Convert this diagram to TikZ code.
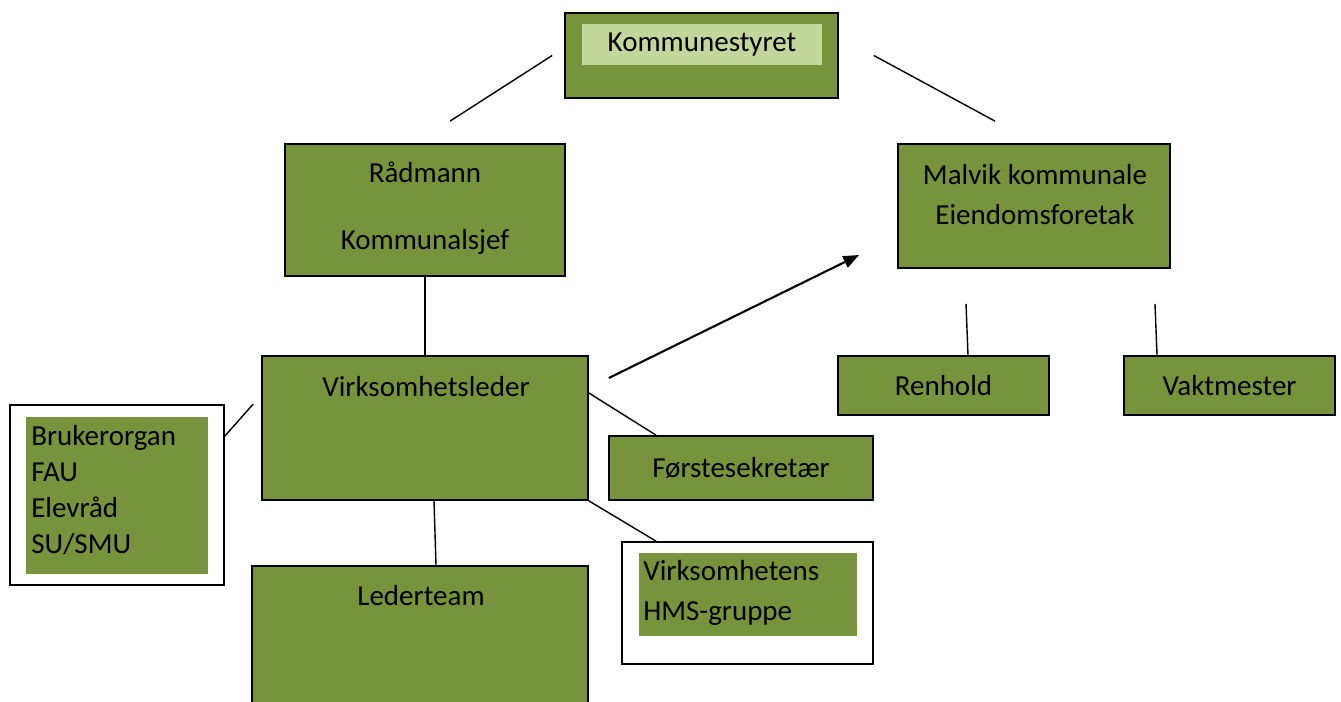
\documentclass[tikz,border=0pt]{standalone}
\usepackage{fontspec}
\setmainfont{Carlito}
\usetikzlibrary{arrows.meta,positioning}
\definecolor{olive}{HTML}{77933C}
\definecolor{paleolive}{HTML}{C3D69B}

\begin{document}
\begin{tikzpicture}[
    x=0.02cm, y=-0.02cm,
    orgbox/.style={rectangle, draw=black, fill=olive, line width=1pt, inner sep=0pt, font=\fontsize{16.5}{20}\selectfont},
    framebox/.style={rectangle, draw=black, fill=white, line width=1pt, inner sep=0pt},
    tagbox/.style={rectangle, fill=olive, inner sep=0pt},
    lbl/.style={inner sep=0pt, align=center, font=\fontsize{16.5}{23.2}\selectfont},
    listlbl/.style={inner sep=0pt, align=left, font=\fontsize{16.5}{20.4}\selectfont},
    link/.style={line width=0.8pt},
    arrow/.style={-{Triangle[length=9pt,width=7pt]}, line width=1.2pt}
]
    \useasboundingbox (0,0) rectangle (1341,702);

    \node [orgbox, minimum width=5.46cm, minimum height=1.7cm] (styret) at (701.5,55.5) {};
    \node [lbl, fill=paleolive, minimum width=4.8cm, minimum height=0.82cm] (styretlbl) at (702,44.5) {Kommunestyret};

    \node [orgbox, minimum width=5.6cm, minimum height=2.64cm] (radmann) at (425,210) {};
    \node [lbl] (radmannlbl) at (425,208) {Rådmann\\[15pt]Kommunalsjef};

    \node [orgbox, minimum width=5.44cm, minimum height=2.48cm] (malvik) at (1034,206) {};
    \node [lbl] (malviklbl) at (1035,194.5) {Malvik kommunale\\Eiendomsforetak};

    \node [orgbox, minimum width=6.52cm, minimum height=2.88cm] (vleder) at (425,428) {};
    \node [lbl] (vlederlbl) at (426,387) {Virksomhetsleder};

    \node [orgbox, minimum width=5.28cm, minimum height=1.28cm] (sekr) at (741,468) {Førstesekretær};
    \node [orgbox, minimum width=4.22cm, minimum height=1.18cm] (renhold) at (943.5,385.5) {Renhold};
    \node [orgbox, minimum width=4.22cm, minimum height=1.18cm] (vakt) at (1229.5,385.5) {Vaktmester};

    \node [framebox, minimum width=4.28cm, minimum height=3.6cm] (bruker) at (117,495) {};
    \node [tagbox, minimum width=3.64cm, minimum height=3.14cm] (brukerfill) at (117,495.5) {};
    \node [listlbl, anchor=west] (brukerlbl) at (31,490) {Brukerorgan\\FAU\\Elevråd\\SU/SMU};

    \node [orgbox, minimum width=6.72cm, minimum height=3cm] (lteam) at (420,641) {};
    \node [lbl] (lteamlbl) at (421,596) {Lederteam};

    \node [framebox, minimum width=5.02cm, minimum height=2.44cm] (hms) at (747.5,603) {};
    \node [tagbox, minimum width=4.36cm, minimum height=1.66cm] (hmsfill) at (748,594.5) {};
    \node [listlbl, anchor=west, font=\fontsize{16.5}{23.2}\selectfont] (hmslbl) at (643,593) {Virksomhetens\\HMS-gruppe};

    \coordinate (bk) at (224,437);

    \draw [link] ([xshift=-0.24cm]styret.west) -- ([xshift=0.5cm,yshift=0.44cm]radmann.north);
    \draw [link] ([xshift=0.7cm]styret.east) -- ([xshift=-0.78cm,yshift=0.44cm]malvik.north);
    \draw [link] (radmann.south) -- (vleder.north);
    \draw [link] ([xshift=-0.16cm,yshift=-0.98cm]vleder.north west) -- (bk);
    \draw [link] ([yshift=0.7cm]vleder.east) -- ([xshift=-1.7cm]sekr.north);
    \draw [link] (vleder.south east) -- ([xshift=-1.83cm]hms.north);
    \draw [link] ([xshift=0.18cm]vleder.south) -- ([xshift=0.32cm]lteam.north);
    \draw [arrow] ([xshift=0.4cm,yshift=1cm]vleder.east) -- ([xshift=-0.76cm,yshift=-0.98cm]malvik.west);
    \draw [link] ([xshift=-1.36cm,yshift=-0.7cm]malvik.south) -- ([xshift=0.49cm]renhold.north);
    \draw [link] ([xshift=2.42cm,yshift=-0.7cm]malvik.south) -- ([xshift=-1.45cm]vakt.north);
\end{tikzpicture}
\end{document}
